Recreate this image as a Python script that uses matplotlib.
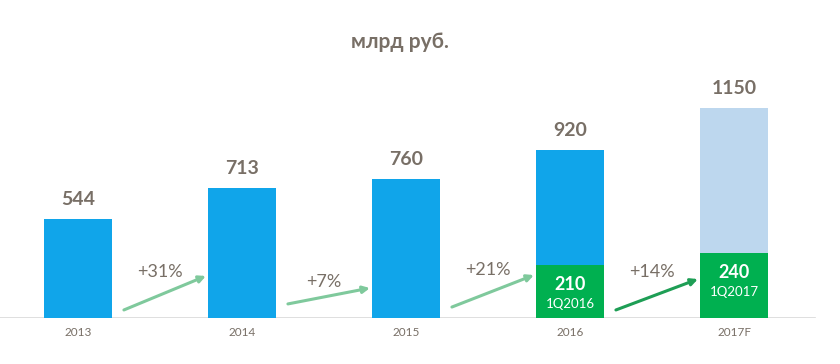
import numpy as np
import matplotlib.pyplot as plt

plt.rcParams['font.family'] = ['Lato', 'Open Sans', 'DejaVu Sans']

# data
years = ['2013', '2014', '2015', '2016', '2017F']
totals = [544, 713, 760, 920, 1150]
q1_labels = ['', '', '', '1Q2016', '1Q2017']
q1_values = [None, None, None, 210, 240]
q1_bar = [0, 0, 0, 290, 355]          # drawn height of the green part (not to scale in original)
growth = ['+31%', '+7%', '+21%', '+14%']

# arrow layout (start y, end y, text y) in data units
arrow_y0 = [44, 77, 60, 44]
arrow_y1 = [230, 164, 235, 213]
text_y = [252, 197, 263, 252]

blue = '#10a5ea'
light_blue = '#bdd7ee'
green = '#00b050'
txt = '#786f66'

fig = plt.figure(figsize=(8.4, 3.64), dpi=100)
ax = fig.add_axes([0, 46 / 364, 1, 318 / 364])

x = np.arange(len(years))
w = 0.41
colors = [blue, blue, blue, blue, light_blue]
ax.bar(x, totals, width=w, color=colors, zorder=2)
ax.bar(x, q1_bar, width=w, color=green, zorder=3)

for i, v in enumerate(totals):
    ax.annotate(str(v), (x[i], v), xytext=(0, 8), textcoords='offset points',
                ha='center', va='bottom', fontsize=14, fontweight='bold', color=txt)
    if q1_values[i] is not None:
        ax.annotate(str(q1_values[i]), (x[i], q1_bar[i]), xytext=(0, -8),
                    textcoords='offset points', ha='center', va='top',
                    fontsize=13, fontweight='bold', color='white', zorder=4)
        ax.annotate(q1_labels[i], (x[i], q1_bar[i]), xytext=(0, -24),
                    textcoords='offset points', ha='center', va='top',
                    fontsize=9.5, color='white', zorder=4)

for i, g in enumerate(growth):
    acol = '#1e9e55' if i == 3 else '#7fc99c'
    ax.annotate('', xy=(x[i] + 0.78, arrow_y1[i]), xytext=(x[i] + 0.28, arrow_y0[i]),
                arrowprops=dict(arrowstyle='-|>', color=acol, lw=2.2,
                                mutation_scale=10, shrinkA=0, shrinkB=0))
    ax.text(x[i] + 0.5, text_y[i], g, ha='center', va='center', fontsize=13, color=txt)

ax.axhline(0, xmin=0, xmax=815 / 840, color='#d9d9d9', lw=1.2, zorder=1)

for i, y in enumerate(years):
    ax.text(x[i], -82, y, ha='center', va='center', fontsize=8.5, color=txt)

ax.set_xlim(-78 / 164, (840 - 78) / 164)
ax.set_ylim(0, 318 / 0.1827)
ax.axis('off')

fig.text(400 / 840, 1 - 42 / 364, 'млрд руб.', ha='center', va='center',
         fontsize=15, fontweight='bold', color=txt)

fig.savefig('out.png', dpi=100)
